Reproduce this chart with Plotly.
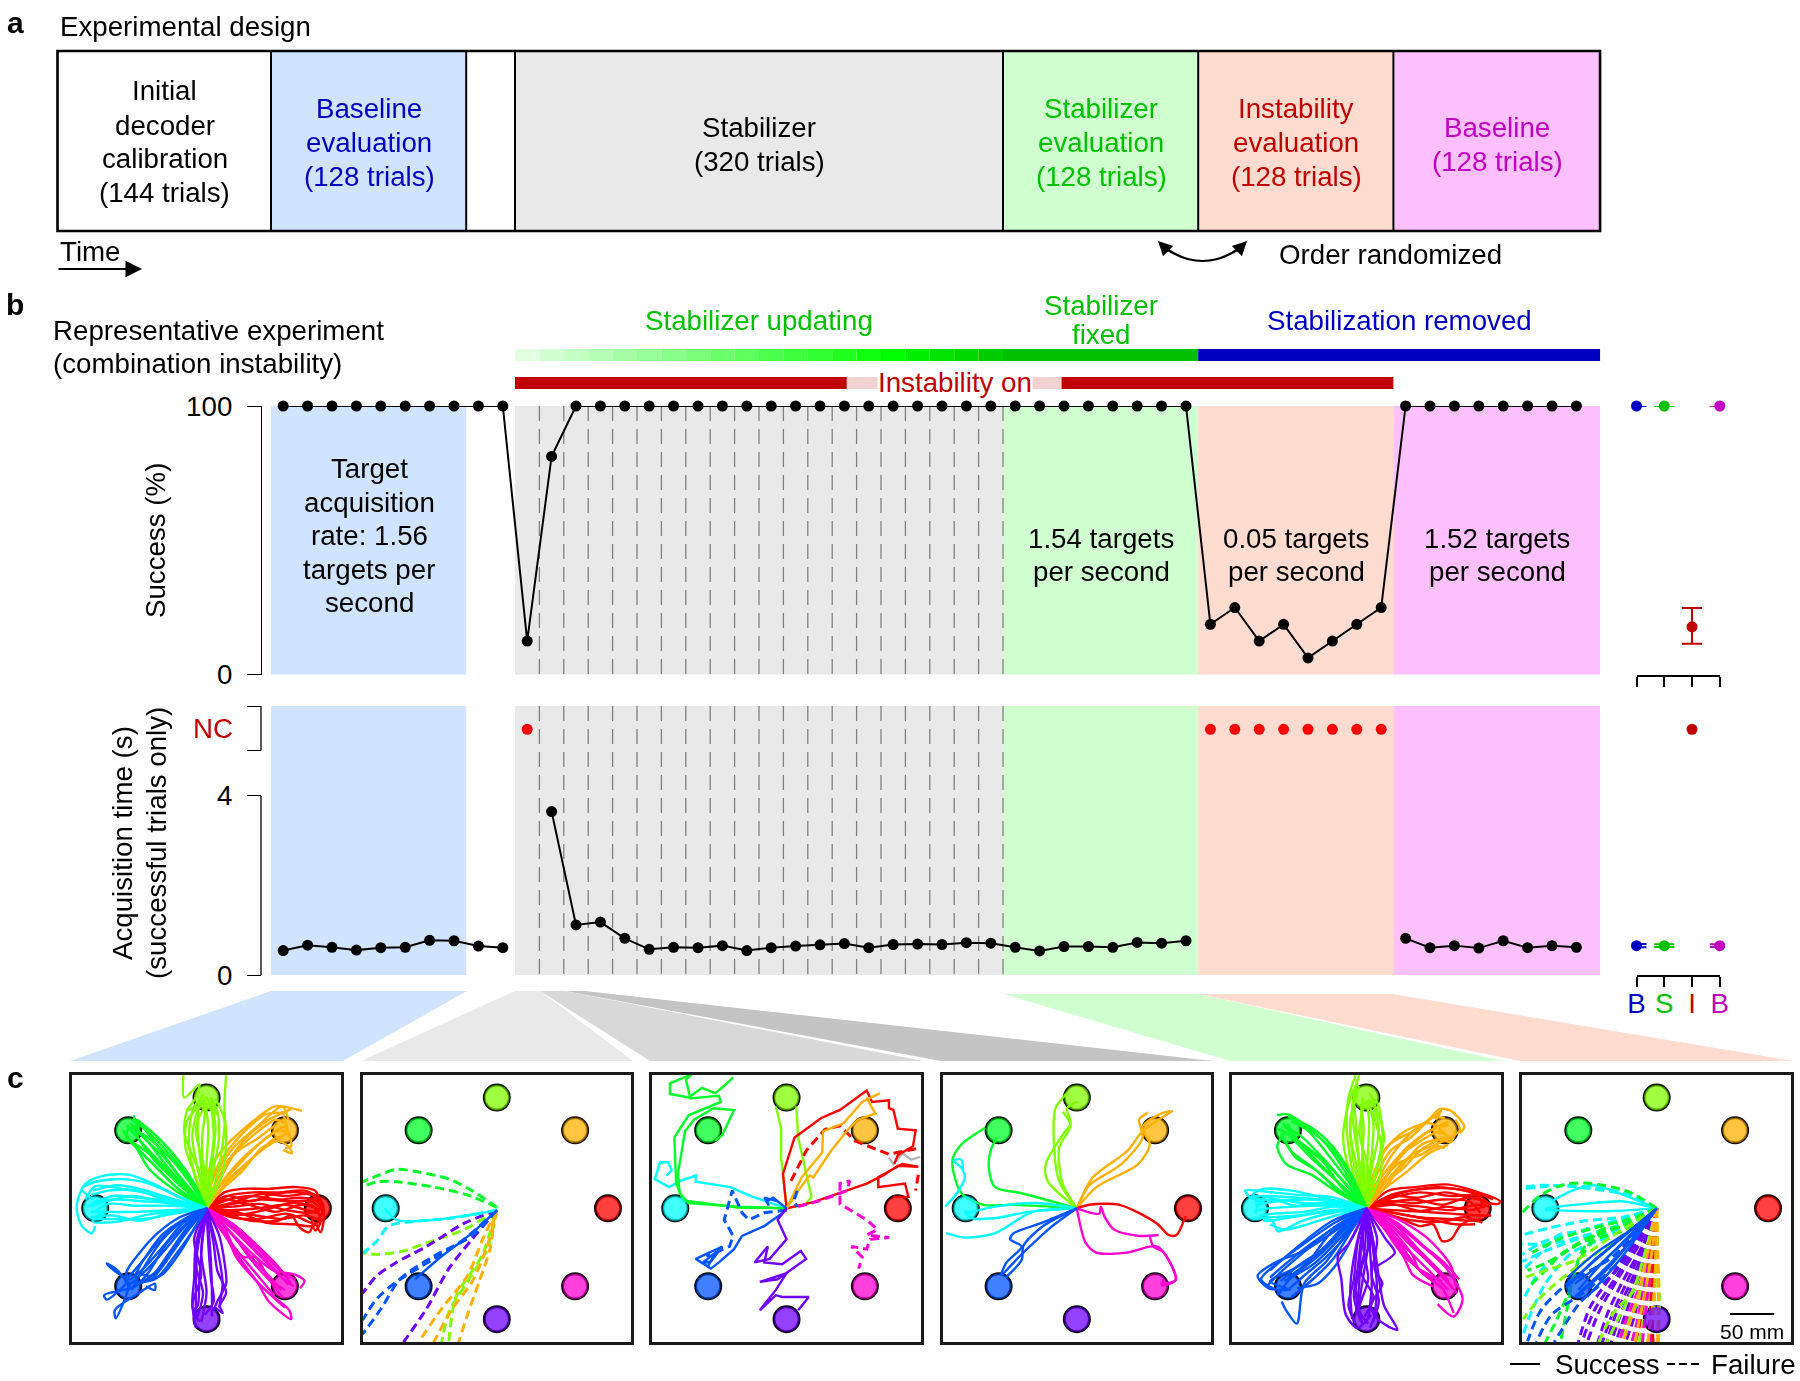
import plotly.graph_objects as go

W, H = 1800, 1381
FONT = "Liberation Sans"
BLUE_T, GREEN_T, RED_T, MAG_T = "#0000C0", "#00C000", "#C00000", "#C000C0"
BAND_BLUE, BAND_GRAY, BAND_GREEN, BAND_RED, BAND_MAG = "#D0E4FF", "#E9E9E9", "#D0FFD0", "#FFDBD0", "#FFC0FF"

# ---------- panel b data (x in 16-trial blocks) ----------
SUCCESS_X = [i + 0.5 for i in range(54)]
SUCCESS = [100]*10 + [12.5, 81.25] + [100]*26 + [18.75, 25, 12.5, 18.75, 6.25, 12.5, 18.75, 25] + [100]*8 + []
ACQ_1_X = [0.5, 1.5, 2.5, 3.5, 4.5, 5.5, 6.5, 7.5, 8.5, 9.5]
ACQ_1 = [.545, .664, .618, .555, .609, .618, .773, .764, .645, .609]
ACQ_2_X = [i + 0.5 for i in range(11, 38)]
ACQ_2 = [3.645, 1.118, 1.18, .818, .573, .618, .609, .655, .545, .609, .645, .673, .70, .609, .68,
         .69, .68, .72, .71, .618, .536, .636, .636, .618, .727, .71, .764]
ACQ_3_X = [46.5, 47.5, 48.5, 49.5, 50.5, 51.5, 52.5, 53.5]
ACQ_3 = [.818, .609, .655, .6, .764, .609, .655, .618]
NC_X = [10.5, 38.5, 39.5, 40.5, 41.5, 42.5, 43.5, 44.5, 45.5]
NC_Y = [5.48]*9
GRID_X = list(range(11, 31))
SUM_COLORS = [BLUE_T, GREEN_T, RED_T, MAG_T]
SUM_LABELS = ["B", "S", "I", "B"]
SUM_SUCCESS = [100, 100, 17.8, 100]
SUM_SUCCESS_HI = [0, 0, 7.0, 0]
SUM_SUCCESS_LO = [0, 0, 6.3, 0]
SUM_ACQ = [.655, .655, None, .655]
SUM_ACQ_ERR = [.035, .03, 0, .03]
SUM_NC_Y = [5.48]
UPDATE_SHADES = ["#E2FFE2", "#D2FFD2", "#C4FFC4", "#B6FFB6", "#A6FFA6", "#98FF98", "#88FF88", "#7AFF7A", "#6CFF6C", "#5CFF5C",
                 "#4CFF4C", "#3EFF3E", "#30FF30", "#20FF20", "#10FF10", "#00FF00", "#00F000", "#00E400", "#00D800", "#00CC00"]

# ---------- panel c: target layout, traces in mm from the centre ----------
TARGET_X = [125, 88, 0, -88, -125, -88, 0, 88]
TARGET_Y = [0, 88, 125, 88, 0, -88, -125, -88]
TARGET_FILL = ["red", "orange", "lime", "green", "cyan", "blue", "purple", "magenta"]
C = {"red": "#FF0000", "orange": "#FFB000", "lime": "#80FF00", "green": "#00FF28", "cyan": "#00FFFF",
     "blue": "#0055FF", "purple": "#7000FF", "magenta": "#FF00D0", "gray": "#B8B8B8"}

P1_RED = [[0,0,20,18,40,22,70,22,100,24,122,20,128,5,125,-5],[0,0,25,10,50,14,80,10,105,12,125,8,130,-5,125,-12],
 [0,0,30,2,60,5,90,-2,115,-5,130,0],[0,0,25,-5,55,-8,85,-12,110,-8,128,-15,122,-25,118,-12],
 [0,0,20,-6,50,-14,80,-14,95,-8,105,-22,115,-27,120,-18],[0,0,22,14,50,8,75,16,105,18,128,10,132,-10,128,-27,122,-15],
 [0,0,28,6,60,16,90,14,118,16,128,6],[0,0,30,-8,65,-2,95,6,120,2,127,-8],
 [0,0,24,14,52,18,82,18,110,20,124,14],[0,0,30,5,62,10,92,8,118,8,126,2],[0,0,26,-2,58,0,88,4,112,-2,128,-6],[0,0,28,-10,58,-12,90,-6,112,-14,126,-20],[0,0,20,10,48,4,78,-4,108,4,128,-2],[0,0,34,-4,66,-16,98,-18,118,-20,130,-12]]
P1_ORANGE = [[0,0,-4,28,17,65,47,94,77,115,107,110],[0,0,8,35,30,68,60,95,85,115,92,100],[0,0,14,25,35,48,65,78,88,92,95,70,88,68],
 [0,0,10,20,30,38,55,60,75,78,90,85,85,110],[0,0,5,30,25,55,45,80,70,100,95,112],[0,0,16,20,40,42,62,68,80,76,92,70,96,62,86,66],
 [0,0,10,28,28,58,52,82,78,100,90,95],[0,0,12,22,34,50,58,72,82,88,92,84],[0,0,6,34,20,60,42,86,66,106,84,108],[0,0,18,24,42,48,68,70,86,80],[0,0,14,30,32,62,56,78,80,96]]
P1_LIME = [[0,0,-8,40,-25,85,-22,110,-12,125,-8,140,-25,125,-26,150],[0,0,18,40,22,80,20,115,22,150],[0,0,-10,45,-16,80,-10,110,0,125,5,110],
 [0,0,8,45,14,80,12,110,5,125,12,105],[0,0,-4,40,-5,80,-2,115,-8,120],[0,0,3,40,8,80,4,118,2,120],[0,0,-12,35,-24,70,-22,98,-10,115,-22,110],
 [0,0,-6,45,-10,90,-8,120,-4,128],[0,0,6,50,10,92,6,122],[0,0,-14,40,-20,80,-14,115,-6,122],[0,0,12,38,18,72,20,100,10,124],[0,0,0,50,2,90,-2,125],[0,0,-2,42,-12,88,-6,108,2,118]]
P1_GREEN = [[0,0,-25,30,-50,60,-75,85,-82,105],[0,0,-30,20,-60,50,-85,75,-92,85],[0,0,-20,35,-45,65,-70,90,-84,100],
 [0,0,-35,20,-65,45,-80,70,-90,80,-88,90],[0,0,-28,25,-55,50,-78,82,-80,95],[0,0,-15,30,-38,62,-60,85,-78,100],[0,0,-32,28,-60,58,-88,78],
 [0,0,-24,24,-48,52,-68,78,-86,96],[0,0,-28,32,-52,66,-72,92,-80,100],[0,0,-34,24,-62,52,-82,72,-94,88],[0,0,-18,28,-42,58,-66,80,-86,92],[0,0,-30,30,-56,56,-76,78,-90,94]]
P1_CYAN = [[0,0,-30,12,-58,27,-88,38,-115,37,-136,28,-146,2,-140,-20,-129,-28,-125,-20],[0,0,-35,15,-65,28,-95,33,-125,30,-140,22,-128,10],
 [0,0,-40,8,-75,12,-105,14,-128,6],[0,0,-40,3,-80,3,-110,5,-125,-3],[0,0,-38,-3,-70,-8,-100,-15,-128,-15,-118,-5],
 [0,0,-40,-5,-75,-14,-105,-8,-130,-10],[0,0,-35,5,-70,18,-95,22,-125,25,-136,10],[0,0,-42,10,-80,20,-110,20,-130,15],
 [0,0,-38,6,-72,8,-100,10,-125,8],[0,0,-36,10,-68,20,-100,26,-128,20],[0,0,-42,-2,-78,-4,-108,-4,-130,-4],[0,0,-36,-6,-72,-12,-104,-12,-126,-12],[0,0,-44,6,-84,14,-112,8,-134,2]]
P1_BLUE = [[0,0,-25,-12,-50,-30,-72,-60,-85,-80,-110,-65,-112,-62,-100,-70,-85,-90],[0,0,-20,-15,-45,-40,-65,-72,-80,-88,-115,-98,-112,-103,-90,-85],
 [0,0,-30,-10,-55,-28,-75,-50,-90,-72,-88,-90,-102,-124,-103,-115,-75,-95,-58,-85,-58,-92,-68,-88],[0,0,-18,-18,-38,-48,-55,-70,-75,-85],
 [0,0,-28,-18,-48,-42,-68,-65,-82,-78],[0,0,-12,-20,-30,-50,-50,-75,-70,-82],[0,0,-22,-22,-42,-50,-62,-76,-78,-72],
 [0,0,-24,-20,-46,-46,-66,-68,-86,-86],[0,0,-20,-24,-40,-52,-60,-78,-80,-86],[0,0,-30,-16,-54,-38,-74,-62,-90,-80],[0,0,-26,-14,-50,-36,-70,-66,-84,-92],[0,0,-16,-26,-36,-54,-58,-80,-92,-84]]
P1_PURPLE = [[0,0,-12,-40,-14,-80,-16,-105,-14,-125,-12,-135],[0,0,-5,-40,-8,-80,-10,-110,-15,-115],[0,0,8,-40,12,-70,22,-95,15,-110,18,-118,10,-112],
 [0,0,2,-40,5,-80,8,-105,-2,-120],[0,0,14,-30,20,-60,22,-85,12,-105,8,-115],[0,0,-8,-30,-12,-65,-4,-95,-10,-122],
 [0,0,-10,-45,-12,-90,-12,-125],[0,0,4,-45,6,-90,6,-122],[0,0,-6,-50,0,-95,-6,-128],[0,0,12,-45,18,-85,14,-112],[0,0,-14,-35,-6,-75,-16,-110,-8,-128]]
P1_MAGENTA = [[0,0,25,-25,50,-50,75,-70,100,-75,110,-82,105,-90],[0,0,20,-30,40,-60,58,-85,70,-105,95,-125,93,-115,75,-100],
 [0,0,30,-18,55,-40,80,-65,95,-85],[0,0,18,-18,30,-42,42,-55,55,-55,70,-80,85,-100],[0,0,28,-28,50,-58,72,-82,88,-92],[0,0,35,-22,62,-48,85,-72,100,-80],[0,0,24,-14,48,-36,72,-60,92,-78],
 [0,0,22,-22,44,-48,66,-72,84,-92],[0,0,26,-18,52,-44,74,-66,92,-86],[0,0,16,-24,36,-50,56,-74,76,-98],[0,0,30,-24,58,-52,82,-76,98,-88],[0,0,20,-26,34,-56,60,-86,88,-112]]

P2_SOLID_CYAN = [[0,-2,-28,-7,-71,-13,-113,-13,-126,0]]
P2_SOLID_BLUE = [[0,-2,-28,-28,-62,-54,-92,-80]]
P2_DASH_GREEN = [[0,1,-28,20,-54,33,-88,41,-113,44,-134,37,-151,30],[0,1,-33,15,-71,24,-113,30,-135,30,-151,24]]
P2_DASH_CYAN = [[0,-2,-50,-11,-96,-15,-122,-20,-135,-37,-151,-51]]
P2_DASH_LIME = [[0,-2,-37,-24,-79,-39,-105,-48,-135,-52,-151,-50],[0,-2,-11,-46,-33,-83,-54,-117,-62,-151],[-3,-9,-16,-52,-46,-100,-54,-151]]
P2_DASH_PURPLE = [[0,-2,-37,-17,-79,-43,-113,-61,-135,-76,-151,-96],[0,-2,-28,-35,-54,-68,-79,-113,-105,-151]]
P2_DASH_BLUE = [[0,-2,-37,-35,-71,-57,-113,-83,-135,-102,-151,-126],[0,-2,-28,-31,-71,-54,-109,-80,-130,-113,-151,-142]]
P2_DASH_ORANGE = [[0,-2,-16,-35,-33,-76,-62,-113,-88,-151],[0,-2,-11,-43,-28,-83,-50,-113,-71,-151],[-3,-9,-7,-43,-20,-83,-33,-120,-43,-151]]

P3_LIME = [[-12,115,-6,90,-6,57,0,2],[11,115,13,80,28,13,21,4,0,0]]
P3_GREEN = [[0,0,-55,2,-110,6,-120,17,-122,39,-114,87,-104,100,-82,113,-59,111,-72,83,-80,76],
 [0,0,-55,1,-116,9,-124,28,-126,80,-110,105,-74,120,-76,127,-87,126,-108,124,-113,145,-107,151],
 [-107,151,-131,141,-131,129,-110,125,-95,136,-80,130,-68,140,-60,148]]
P3_CYAN = [[0,0,-38,13,-63,24,-102,30,-102,37,-119,31,-132,24,-148,33,-142,52,-133,52,-129,43,-135,37]]
P3_ORANGE = [[0,0,17,35,40,63,41,87,64,96,85,120,105,130],[0,0,16,24,26,37,30,35,50,65,70,90,80,100,100,107,95,115,90,125]]
P3_RED = [[0,0,-4,39,9,80,39,102,60,111,90,133,96,120,115,122,115,113,120,111,125,90,145,88,142,70,125,60,121,50],
 [0,0,30,7,90,28,110,38,125,48,148,47,130,50,103,35,103,24,133,28,137,13,120,13]]
P3_RED_DASH = [[5,31,22,65,43,89,60,93,77,76,115,61,149,68],[148,38,145,20]]
P3_GRAY = [[115,57,120,50,130,62,140,55,150,58]]
P3_BLUE = [[0,-2,-25,-20,-50,-31,-59,-46,-76,-61,-85,-68,-102,-57,-72,-43,-85,-60,-95,-62,-80,-50,-88,-65]]
P3_BLUE2 = [[0,0,-15,12,-22,8,-20,3,-25,12,-10,8,0,0]]
P3_BLUE_DASH = [[0,-2,-25,-5,-42,-13,-50,-5,-61,20,-70,-13,-60,-31,-64,-43,-90,-54],[12,20,8,8,12,2]]
P3_PURPLE = [[0,0,-10,-13,0,-35,-19,-57,-36,-61,-21,-43,-25,-61,-5,-63,16,-48,22,-57,-10,-80,-30,-83,0,-73,-12,-92,-30,-115,-12,-98,-5,-100,13,-100,25,-100,13,-115]]
P3_MAGENTA_DASH = [[13,2,39,9,68,20,71,31,60,28,60,5,90,-13,102,-24,90,-30,115,-33,94,-35,90,-46,73,-43,85,-55,81,-68]]

P4_LIME = [[0,0,-33,31,-35,50,-16,83,-7,96,-11,113,1,120],[0,0,-20,31,-26,80,-24,113,-11,130],[0,0,-16,28,-20,68,-7,94,-16,109]]
P4_GREEN = [[0,0,-62,17,-92,24,-99,46,-97,65,-90,80],[0,0,-71,4,-105,4,-130,17,-140,54,-130,72,-103,91]]
P4_CYAN = [[0,0,-45,6,-92,2,-126,-6],[0,0,-54,-4,-92,-11,-118,-11,-126,-2],[0,0,-50,-4,-92,-28,-126,-33,-147,-28],
 [-148,2,-135,17,-126,35,-130,46,-139,54,-130,55,-128,42]]
P4_ORANGE = [[0,0,18,35,57,65,74,87,108,110],[0,0,22,24,69,50,82,72,74,92,95,107,105,110],[0,0,14,26,50,50,74,80,70,100,80,108]]
P4_RED = [[0,0,14,4,48,4,90,-17,103,-30,112,-30,122,-9]]
P4_BLUE = [[0,0,-41,-17,-71,-28,-75,-35,-62,-43,-79,-61,-86,-76],[0,0,-30,-22,-55,-45,-70,-60,-84,-75],[0,0,-38,-20,-60,-42,-62,-58,-80,-78]]
P4_MAGENTA = [[0,0,25,-6,27,2,31,-9,42,-24,69,-31,92,-30],[0,0,10,-39,22,-50,56,-50,90,-43,107,-65,111,-81,96,-87,98,-80],
 [82,-31,86,-43,98,-50,111,-81,94,-85]]

P5_RED = [[0,0,25,20,55,24,90,27,120,20,150,8,148,5,128,8],[0,0,30,12,60,18,95,14,125,14,132,0],[0,0,25,8,55,6,85,10,115,8,128,-5],
 [0,0,30,-2,65,-4,95,-6,125,-8,140,-8],[0,0,25,-8,55,-14,85,-15,110,-10,130,-16],[0,0,35,-10,60,-20,75,-18,85,-37,95,-35,105,-20,118,-12],
 [0,0,28,5,60,-3,90,2,118,-2,135,4],[0,0,30,16,65,22,100,22,128,16,142,10],
 [0,0,28,14,58,12,88,18,118,12,135,8],[0,0,26,-4,58,-10,92,-12,118,-14,128,-12],[0,0,30,4,62,2,95,-2,122,4,138,2],[0,0,24,12,50,20,80,24,110,20,130,14],[0,0,34,-6,68,-12,100,-18,122,-18],[0,0,22,6,54,10,86,4,112,12,128,10]]
P5_ORANGE = [[0,0,12,30,30,62,50,85,70,100,82,112,95,110,110,92,105,85],[0,0,18,20,40,48,62,72,82,78,95,75,100,88],[0,0,8,38,22,68,45,88,72,96,90,82],
 [0,0,15,28,38,52,60,60,80,70,88,68],[0,0,20,22,44,40,70,62,92,72],[0,0,5,30,26,72,58,90,84,110,78,100],[0,0,22,30,50,60,78,72,105,88,100,100],
 [0,0,12,28,32,54,54,76,76,90,92,94],[0,0,16,24,36,58,58,74,80,86,94,80],[0,0,10,34,28,66,50,80,74,102,88,102],[0,0,14,24,40,44,64,68,88,80],[0,0,18,30,42,62,66,84,92,98]]
P5_LIME = [[0,0,-15,40,-22,90,-20,125,-12,150],[0,0,-8,50,-12,100,-14,130,-8,150],[0,0,12,45,18,85,12,120,5,125],[0,0,-5,45,-3,90,-6,118],
 [0,0,5,50,8,95,3,122,10,115],[0,0,-18,38,-26,78,-22,110,-14,135],[0,0,16,40,16,75,8,110,12,112],[0,0,2,45,-8,85,-2,120],
 [0,0,-10,45,-18,85,-14,120,-8,138],[0,0,6,45,14,88,8,118],[0,0,-3,50,-6,100,-4,125],[0,0,10,40,20,80,14,105,4,130],[0,0,-14,50,-18,100,-10,128],[0,0,1,48,3,98,0,122],[0,0,-6,42,-12,76,-16,112,-10,142]]
P5_GREEN = [[0,0,-20,35,-45,72,-70,95,-88,106,-100,105],[0,0,-30,28,-60,55,-90,85,-100,90],[0,0,-35,20,-62,38,-90,50,-100,70,-92,85],
 [0,0,-25,30,-55,60,-80,80,-88,95],[0,0,-30,18,-55,42,-80,58,-92,78],[0,0,-18,40,-38,70,-60,90,-80,100],[0,0,-28,24,-48,52,-72,72,-86,86],
 [0,0,-24,28,-50,58,-74,82,-92,92],[0,0,-20,30,-44,62,-66,88,-84,98],[0,0,-32,22,-60,46,-84,64,-96,84],[0,0,-26,24,-52,50,-76,76,-94,96],[0,0,-16,34,-36,64,-58,84,-88,104]]
P5_CYAN = [[0,0,-40,13,-75,15,-105,18,-136,20,-130,12,-120,10],[0,0,-35,8,-70,10,-100,8,-125,4],[0,0,-42,3,-80,2,-110,0,-122,-2],
 [0,0,-38,-5,-72,-14,-99,-26,-105,-15,-120,-10],[0,0,-45,-4,-85,-10,-115,-14,-110,-6],[0,0,-40,7,-80,3,-115,12,-125,-6],
 [0,0,-38,5,-72,6,-100,10,-126,8],[0,0,-36,2,-70,-4,-104,-6,-120,-8],[0,0,-42,9,-78,12,-108,14,-130,14],[0,0,-34,-8,-66,-18,-92,-24,-108,-18],[0,0,-40,-2,-76,-8,-108,-10,-128,-12],[0,0,-44,11,-84,20,-116,22,-128,16]]
P5_BLUE = [[0,0,-30,-22,-70,-48,-100,-60,-122,-76,-110,-90,-88,-92],[0,0,-35,-16,-70,-40,-100,-62,-118,-80,-95,-95],[0,0,-25,-20,-55,-52,-85,-70,-108,-82,-85,-92],
 [0,0,-20,-25,-45,-60,-70,-85,-78,-130,-90,-115,-95,-105],[0,0,-40,-28,-65,-60,-88,-78],[0,0,-15,-32,-35,-65,-55,-85,-78,-90],[0,0,-28,-32,-58,-62,-92,-82],[0,0,-38,-14,-78,-44,-108,-70],
 [0,0,-24,-22,-52,-48,-78,-66,-96,-82],[0,0,-30,-18,-62,-40,-90,-62,-108,-78],[0,0,-20,-28,-46,-56,-70,-76,-88,-92],[0,0,-34,-20,-66,-46,-94,-70,-112,-88],[0,0,-16,-24,-38,-58,-60,-80,-84,-100],[0,0,-26,-26,-54,-54,-84,-78,-100,-98]]
P5_PURPLE = [[0,0,-20,-40,-32,-54,-28,-80,-23,-120,-10,-135,5,-120],[0,0,-10,-40,-14,-80,-20,-110,-12,-130],[0,0,8,-40,10,-70,18,-85,5,-110,12,-125],
 [0,0,-4,-40,2,-80,-8,-115,2,-130],[0,0,10,-50,15,-85,20,-110,35,-137,28,-135,12,-125],[0,0,-6,-35,-10,-70,-14,-100,-6,-128],[0,0,5,-35,-6,-72,8,-100,-2,-122],[0,0,22,-35,32,-50,12,-65],
 [0,0,-6,-45,-8,-85,-12,-120],[0,0,4,-45,6,-88,2,-125],[0,0,-12,-45,-18,-90,-16,-125],[0,0,8,-50,12,-92,8,-128],[0,0,-2,-48,-12,-92,-4,-132],[0,0,2,-40,-4,-80,-10,-118],[0,0,12,-35,6,-75,14,-105,4,-135]]
P5_MAGENTA = [[0,0,30,-15,60,-40,90,-68,108,-102,98,-122,80,-108],[0,0,25,-20,50,-50,60,-70,85,-90,98,-118],[0,0,35,-12,70,-35,95,-65,100,-88],
 [0,0,22,-25,42,-55,52,-75,75,-88],[0,0,28,-28,55,-55,78,-78,92,-92],[0,0,32,-18,58,-46,82,-70,92,-82],[0,0,18,-14,38,-40,62,-72,85,-82],
 [0,0,26,-18,52,-44,78,-68,96,-88],[0,0,22,-22,44,-52,66,-76,88,-92],[0,0,30,-20,58,-48,84,-76,102,-96],[0,0,18,-20,36,-46,56,-66,80,-80],[0,0,34,-16,64,-42,88,-62,104,-80]]

P6_CYAN = [[0,0,-40,8,-80,5,-110,2,-125,0],[0,0,-45,18,-70,26,-95,20,-118,8],[0,0,-50,-3,-90,-3,-125,-2]]
P6_BLUE = [[0,0,-30,-30,-60,-60,-92,-85],[0,0,-25,-28,-55,-55,-88,-92],[0,0,-35,-30,-65,-55,-95,-82],[0,0,-28,-36,-55,-68,-85,-95],
 [0,0,-38,-32,-72,-60,-102,-90],[0,0,-22,-32,-48,-66,-78,-100],[0,0,-32,-26,-68,-50,-100,-78],[0,0,-30,-38,-62,-72,-92,-100]]
P6_DASH_CYAN = [[0,0,-36,17,-103,26,-149,22],[0,0,-32,15,-90,24,-130,26,-151,24],[0,0,-40,-12,-80,-25,-110,-30,-130,-50,-151,-70],
 [0,0,-50,-30,-95,-50,-125,-85,-140,-115,-151,-145],[0,0,-45,-20,-90,-35,-125,-48,-151,-60],[0,0,-50,-15,-95,-28,-128,-38,-151,-52],
 [0,0,-48,-25,-92,-42,-130,-70,-151,-105],[0,0,-40,-18,-85,-32,-120,-40,-151,-40],[0,0,-38,-10,-80,-14,-120,-22,-151,-30]]
P6_DASH_GREEN = [[0,0,-30,18,-72,28,-103,27,-130,15,-151,-5],[0,0,-35,-18,-70,-30,-105,-50,-125,-70,-145,-90],[0,0,-40,-20,-78,-35,-100,-48,-125,-62,-145,-70],
 [0,0,-32,-20,-62,-24,-85,-50,-95,-85,-112,-125,-125,-151],[0,0,-40,-26,-70,-36,-90,-65,-100,-110,-108,-151],[0,0,-30,-12,-70,-22,-110,-35,-140,-50]]
P6_DASH_LIME = [[0,0,-48,-30,-90,-58,-125,-70,-148,-78],[0,0,-45,-35,-95,-70,-130,-100,-150,-125],[0,0,-8,-40,-20,-85,-50,-120,-65,-151],
 [0,0,-5,-40,-12,-85,-28,-120,-40,-151],[0,0,-2,-50,-4,-100,-10,-151],[0,0,-3,-50,-9,-100,-20,-151],[0,0,1,-50,3,-100,2,-151],
 [0,0,-7,-44,-16,-90,-32,-125,-44,-151],[0,0,-11,-42,-24,-86,-42,-122,-56,-151],[0,0,-1,-48,-2,-98,-6,-151]]
P6_DASH_BLUE = [[0,0,-50,-55,-100,-85,-130,-115,-145,-150],[0,0,-45,-70,-85,-105,-115,-151],[0,0,-42,-60,-82,-95,-118,-120,-135,-151]]
P6_DASH_PURPLE = [[0,0,-22,-35,-50,-75,-75,-112,-88,-151],[0,0,-18,-38,-44,-80,-64,-115,-78,-151],[0,0,-15,-40,-38,-82,-55,-118,-66,-151],
 [0,0,-12,-42,-30,-85,-46,-120,-56,-151],[0,0,-10,-44,-24,-88,-36,-122,-46,-151],[0,0,-8,-46,-18,-90,-26,-125,-35,-151],
 [0,0,-20,-36,-46,-78,-70,-115,-84,-151],[0,0,-14,-41,-34,-84,-50,-120,-61,-151],[0,0,-11,-43,-27,-86,-41,-121,-51,-151]]
P6_DASH_MAGENTA = [[0,0,-6,-46,-15,-92,-22,-128,-28,-151],[0,0,-4,-48,-10,-95,-14,-130,-16,-151],[0,0,-3,-50,-6,-98,-8,-135,-6,-151],[0,0,-8,-45,-20,-90,-34,-125,-42,-151]]
P6_DASH_RED = [[0,0,-6,-48,-13,-96,-20,-135,-24,-151],[0,0,-2,-50,-6,-100,-4,-151]]
P6_DASH_ORANGE = [[0,0,-9,-44,-19,-90,-28,-122,-38,-151],[0,0,-5,-46,-13,-94,-20,-128,-24,-151],[0,0,-1,-48,-3,-96,-10,-151],[0,0,1,-48,2,-96,1,-151]]

PANELS = [
 (70.3, 342.8, [("red",P1_RED,0),("orange",P1_ORANGE,0),("lime",P1_LIME,0),("green",P1_GREEN,0),("cyan",P1_CYAN,0),("magenta",P1_MAGENTA,0),("purple",P1_PURPLE,0),("blue",P1_BLUE,0)]),
 (360.8, 632.9, [("green",P2_DASH_GREEN,1),("lime",P2_DASH_LIME,1),("purple",P2_DASH_PURPLE,1),("orange",P2_DASH_ORANGE,1),("cyan",P2_DASH_CYAN,1),("blue",P2_DASH_BLUE,1),("cyan",P2_SOLID_CYAN,0),("blue",P2_SOLID_BLUE,0)]),
 (650.3, 922.8, [("gray",P3_GRAY,0),("lime",P3_LIME,0),("cyan",P3_CYAN,0),("green",P3_GREEN,0),("red",P3_RED,0),("red",P3_RED_DASH,1),("orange",P3_ORANGE,0),("blue",P3_BLUE,0),("blue",P3_BLUE2,0),("blue",P3_BLUE_DASH,1),("purple",P3_PURPLE,0),("magenta",P3_MAGENTA_DASH,1)]),
 (940.8, 1212.9, [("lime",P4_LIME,0),("green",P4_GREEN,0),("cyan",P4_CYAN,0),("orange",P4_ORANGE,0),("red",P4_RED,0),("magenta",P4_MAGENTA,0),("blue",P4_BLUE,0)]),
 (1230.0, 1502.7, [("red",P5_RED,0),("orange",P5_ORANGE,0),("lime",P5_LIME,0),("green",P5_GREEN,0),("cyan",P5_CYAN,0),("magenta",P5_MAGENTA,0),("blue",P5_BLUE,0),("purple",P5_PURPLE,0)]),
 (1520.4, 1793.0, [("cyan",P6_CYAN,0),("cyan",P6_DASH_CYAN,1),("green",P6_DASH_GREEN,1),("blue",P6_DASH_BLUE,1),("purple",P6_DASH_PURPLE,1),("lime",P6_DASH_LIME,1),("magenta",P6_DASH_MAGENTA,1),("red",P6_DASH_RED,1),("orange",P6_DASH_ORANGE,1),("blue",P6_BLUE,0)]),
]
P_TOP, P_BOT = 1072.7, 1344.0
P_INSET = 1.8
PX_X, PX_Y = "x10", "y9"   # hidden page-pixel axes that carry all the text

def X(p): return p / W
def Y(p): return 1 - p / H

fig = go.Figure()
shapes, ann = [], []

def text(px, py, s, color="black", anchor="center", size=27.7, bold=False, angle=0, bg=None):
    ann.append(dict(x=px, y=py, xref=PX_X, yref=PX_Y, text=("<b>%s</b>" % s) if bold else s, showarrow=False,
                    xanchor=anchor, yanchor="middle", textangle=angle, bgcolor=bg, borderpad=0,
                    font=dict(family=FONT, size=size, color=color)))

def lines(px, ys, strs, color="black"):
    for y, s in zip(ys, strs):
        text(px, y, s, color)

def rect(x0, x1, y0, y1, fill, yref="paper"):
    shapes.append(dict(type="rect", xref="x", yref=yref, x0=x0, x1=x1, y0=y0, y1=y1, fillcolor=fill, line_width=0, layer="below"))

def pline(x0, y0, x1, y1, w=2, color="black", dash=None):
    shapes.append(dict(type="line", xref="paper", yref="paper", x0=X(x0), x1=X(x1), y0=Y(y0), y1=Y(y1),
                       line=dict(color=color, width=w, dash=dash)))

def poly(pts, fill):
    d = "M " + " L ".join("%.5f,%.5f" % (X(a), Y(b)) for a, b in pts) + " Z"
    shapes.append(dict(type="path", xref="paper", yref="paper", path=d, fillcolor=fill, line_width=0, layer="below"))

def arrow(hx, hy, tx, ty, size=1.3):
    ann.append(dict(x=hx, y=hy, ax=tx - hx, ay=ty - hy, xref=PX_X, yref=PX_Y, axref="pixel", ayref="pixel", text="",
                    showarrow=True, arrowhead=2, arrowsize=size, arrowwidth=2.2, arrowcolor="black"))

# ---------- panel a ----------
A_EDGES = [-8.75, 0, 8, 10, 30, 38, 46, 54.47]
A_FILLS = ["white", BAND_BLUE, "white", BAND_GRAY, BAND_GREEN, BAND_RED, BAND_MAG]
for i, f in enumerate(A_FILLS):
    rect(A_EDGES[i], A_EDGES[i+1], Y(231), Y(51), f)
for e in A_EDGES[1:-1]:
    shapes.append(dict(type="line", xref="x", yref="paper", x0=e, x1=e, y0=Y(231), y1=Y(51), line=dict(color="black", width=2)))
shapes.append(dict(type="rect", xref="x", yref="paper", x0=A_EDGES[0], x1=A_EDGES[-1], y0=Y(231), y1=Y(51), line=dict(color="black", width=2.6)))
text(59, 26, "Experimental design", anchor="left")
lines(164.5, [90, 125, 158, 192], ["Initial", "decoder", "calibration", "(144 trials)"])
lines(369, [108, 142, 176], ["Baseline", "evaluation", "(128 trials)"], BLUE_T)
lines(759, [127, 161], ["Stabilizer", "(320 trials)"])
lines(1101, [108, 142, 176], ["Stabilizer", "evaluation", "(128 trials)"], GREEN_T)
lines(1296, [108, 142, 176], ["Instability", "evaluation", "(128 trials)"], RED_T)
lines(1497, [127, 161], ["Baseline", "(128 trials)"], MAG_T)
text(59, 251, "Time", anchor="left")
arrow(142, 269, 57, 269, 1.5)
shapes.append(dict(type="path", xref="paper", yref="paper",
                   path="M %.5f,%.5f Q %.5f,%.5f %.5f,%.5f" % (X(1165), Y(248), X(1202.5), Y(274), X(1240), Y(248)),
                   line=dict(color="black", width=2.2)))
arrow(1158, 241, 1170, 253, 1.3)
arrow(1247, 241, 1235, 253, 1.3)
text(1278, 254, "Order randomized", anchor="left")
text(15, 22, "a", anchor="center", bold=True, size=30)
text(15, 304, "b", anchor="center", bold=True, size=30)
text(15, 1077, "c", anchor="center", bold=True, size=30)

# ---------- panel b headers ----------
text(52, 330, "Representative experiment", anchor="left")
text(52, 363, "(combination instability)", anchor="left")
text(759, 320, "Stabilizer updating", GREEN_T)
lines(1101, [305, 334], ["Stabilizer", "fixed"], GREEN_T)
text(1399, 320, "Stabilization removed", BLUE_T)
for i, c in enumerate(UPDATE_SHADES):
    rect(10 + i, 11 + i, Y(361), Y(349), c)
rect(30, 38, Y(361), Y(349), "#00C000")
rect(38, 54.47, Y(361), Y(349), "#0000C0")
rect(10, 23.6, Y(389), Y(377), "#C00000")
rect(23.6, 32.4, Y(389), Y(377), "#F4D2D2")
rect(32.4, 46, Y(389), Y(377), "#C00000")
text(955, 382, "Instability on", RED_T, bg="white")

# ---------- bands ----------
BAND_X0 = [0, 10, 30, 38, 46]
BAND_X1 = [8, 30, 38, 46, 54.47]
BAND_C = [BAND_BLUE, BAND_GRAY, BAND_GREEN, BAND_RED, BAND_MAG]
for a, b, c in zip(BAND_X0, BAND_X1, BAND_C):
    rect(a, b, 0, 100, c, "y")
    rect(a, b, 0, 6, c, "y2")
for g in GRID_X:
    shapes.append(dict(type="line", xref="x", yref="y", x0=g, x1=g, y0=100, y1=0, line=dict(color="#808080", width=1.3, dash="15px,8px"), layer="below"))
    shapes.append(dict(type="line", xref="x", yref="y2", x0=g, x1=g, y0=6, y1=0, line=dict(color="#808080", width=1.3, dash="15px,8px"), layer="below"))

lines(369, [468.6, 502, 535.5, 569, 602], ["Target", "acquisition", "rate: 1.56", "targets per", "second"])
lines(1101, [538, 571], ["1.54 targets", "per second"])
lines(1296, [538, 571], ["0.05 targets", "per second"])
lines(1497, [538, 571], ["1.52 targets", "per second"])
text(155, 541, "Success (%)", angle=-90)
text(122, 843, "Acquisition time (s)", angle=-90)
text(156, 843, "(successful trials only)", angle=-90)
text(234, 728, "NC", RED_T, anchor="right")

# acquisition axis line + NC bracket
for a, b in [(0, 4), (5, 6)]:
    shapes.append(dict(type="line", xref="paper", yref="y2", x0=X(261), x1=X(261), y0=a, y1=b, line=dict(color="black", width=1.3)))

def curve(x, y, xa="x", ya="y"):
    fig.add_trace(go.Scatter(x=x, y=y, xaxis=xa, yaxis=ya, mode="lines+markers", cliponaxis=False,
                             line=dict(color="black", width=2), marker=dict(color="black", size=11), showlegend=False))

curve(SUCCESS_X, SUCCESS)
curve(ACQ_1_X, ACQ_1, ya="y2")
curve(ACQ_2_X, ACQ_2, ya="y2")
curve(ACQ_3_X, ACQ_3, ya="y2")
fig.add_trace(go.Scatter(x=NC_X, y=NC_Y, xaxis="x", yaxis="y2", mode="markers", marker=dict(color="#FF0000", size=11), showlegend=False))

# summary columns
for i in range(4):
    fig.add_trace(go.Scatter(x=[i], y=[SUM_SUCCESS[i]], xaxis="x2", yaxis="y", mode="markers", cliponaxis=False, showlegend=False,
                             marker=dict(color=SUM_COLORS[i], size=11),
                             error_y=dict(type="data", symmetric=False, array=[SUM_SUCCESS_HI[i]], arrayminus=[SUM_SUCCESS_LO[i]],
                                          color=SUM_COLORS[i], thickness=2, width=10)))
    if SUM_ACQ[i] is not None:
        fig.add_trace(go.Scatter(x=[i], y=[SUM_ACQ[i]], xaxis="x3", yaxis="y2", mode="markers", cliponaxis=False, showlegend=False,
                                 marker=dict(color=SUM_COLORS[i], size=11),
                                 error_y=dict(type="data", array=[SUM_ACQ_ERR[i]], color=SUM_COLORS[i], thickness=2, width=10)))
fig.add_trace(go.Scatter(x=[2], y=SUM_NC_Y, xaxis="x3", yaxis="y2", mode="markers", showlegend=False, marker=dict(color=RED_T, size=11)))

# ---------- connectors between b and c ----------
poly([(565, 991), (585, 991), (1213, 1061), (941, 1061)], "#C4C4C4")
poly([(540, 991), (565, 991), (923, 1061), (650, 1061)], "#D8D8D8")
poly([(515, 991), (540, 991), (633, 1061), (361, 1061)], BAND_GRAY)
poly([(271, 991), (467, 991), (343, 1061), (70, 1061)], BAND_BLUE)
poly([(1003, 994), (1198, 994), (1503, 1061), (1230, 1061)], BAND_GREEN)
poly([(1198, 994), (1393, 994), (1793, 1061), (1520, 1061)], BAND_RED)

# ---------- panel c ----------
layout_axes = {}
for k, (x0, x1, groups) in enumerate(PANELS):
    n = k + 4
    xa, ya = "x%d" % n, "y%d" % (k + 3)
    box = dict(showline=True, mirror=True, linewidth=2.6, linecolor="#1a1a1a", ticks="", showticklabels=False,
               showgrid=False, zeroline=False, range=[-151, 151])
    layout_axes["xaxis%d" % n] = dict(box, domain=[X(x0 + P_INSET), X(x1 - P_INSET)], anchor=ya)
    layout_axes["yaxis%d" % (k + 3)] = dict(box, domain=[Y(P_BOT - P_INSET), Y(P_TOP + P_INSET)], anchor=xa)
    fig.add_trace(go.Scatter(x=TARGET_X, y=TARGET_Y, xaxis=xa, yaxis=ya, mode="markers", showlegend=False,
                             marker=dict(size=25, color="white", line=dict(color="black", width=3))))
    for cname, paths, dashed in groups:
        for p in paths:
            fig.add_trace(go.Scatter(x=p[0::2], y=p[1::2], xaxis=xa, yaxis=ya, mode="lines", showlegend=False,
                                     line=dict(color=C[cname], width=3 if dashed else 2.4, shape="linear" if k == 2 else "spline",
                                               smoothing=0.8, dash="9px,5px" if dashed else "solid")))
    fig.add_trace(go.Scatter(x=TARGET_X, y=TARGET_Y, xaxis=xa, yaxis=ya, mode="markers", showlegend=False, opacity=0.75,
                             marker=dict(size=25, color=[C[c] for c in TARGET_FILL])))

pline(1730, 1314, 1774.3, 1314, 2)
text(1752, 1331, "50 mm", size=21)
pline(1510, 1364, 1540, 1364, 2)
text(1554, 1364, "Success", anchor="left")
pline(1667, 1364, 1699, 1364, 2, dash="8px,4px")
text(1710, 1364, "Failure", anchor="left")

# hidden page-pixel axes for the text
fig.add_trace(go.Scatter(x=[None], y=[None], xaxis=PX_X, yaxis=PX_Y, mode="markers", showlegend=False, hoverinfo="skip"))
hidden = dict(visible=False, showgrid=False, zeroline=False)
fig.update_layout(
    width=W, height=H, margin=dict(l=0, r=0, t=0, b=0, pad=0, autoexpand=False), paper_bgcolor="white", plot_bgcolor="rgba(0,0,0,0)",
    font=dict(family=FONT, size=27.7, color="black"), showlegend=False, shapes=shapes, annotations=ann,
    xaxis=dict(hidden, domain=[0, 1], range=[-271 / 24.4, (W - 271) / 24.4], anchor="y"),
    xaxis10=dict(hidden, domain=[0, 1], range=[0, W], anchor=PX_Y),
    yaxis9=dict(hidden, domain=[0, 1], range=[H, 0], anchor=PX_X),
    yaxis=dict(domain=[Y(674.7), Y(406)], range=[0, 100], anchor="free", position=X(261), side="left", showgrid=False, zeroline=False,
               showline=True, linecolor="black", linewidth=1.3, ticks="outside", ticklen=14, tickwidth=1.3, tickcolor="black",
               tickvals=[0, 100], ticktext=["0", "100"], ticklabelstandoff=9),
    yaxis2=dict(domain=[Y(975), Y(706)], range=[0, 6], anchor="free", position=X(261), side="left", showgrid=False, zeroline=False,
                showline=False, ticks="outside", ticklen=14, tickwidth=1.3, tickcolor="black",
                tickvals=[0, 4, 5, 6], ticktext=["0", "4", "", ""], ticklabelstandoff=9),
    xaxis2=dict(domain=[X(1636.5), X(1719.8)], range=[0, 3], anchor="y", showgrid=False, zeroline=False, showline=True, linecolor="black",
                linewidth=2, ticks="outside", ticklen=10, tickwidth=2, tickcolor="black", tickvals=[0, 1, 2, 3], showticklabels=False),
    xaxis3=dict(domain=[X(1636.5), X(1719.8)], range=[0, 3], anchor="y2", showgrid=False, zeroline=False, showline=True, linecolor="black",
                linewidth=2, ticks="outside", ticklen=10, tickwidth=2, tickcolor="black", tickvals=[0, 1, 2, 3], ticklabelstandoff=-7,
                ticktext=['<span style="color:%s">%s</span>' % (c, l) for c, l in zip(SUM_COLORS, SUM_LABELS)], tickangle=0),
    **layout_axes,
)
fig.write_html("out.html", config={"displayModeBar": False},
               post_script="document.body.style.margin='0';document.documentElement.style.overflow='hidden';")
